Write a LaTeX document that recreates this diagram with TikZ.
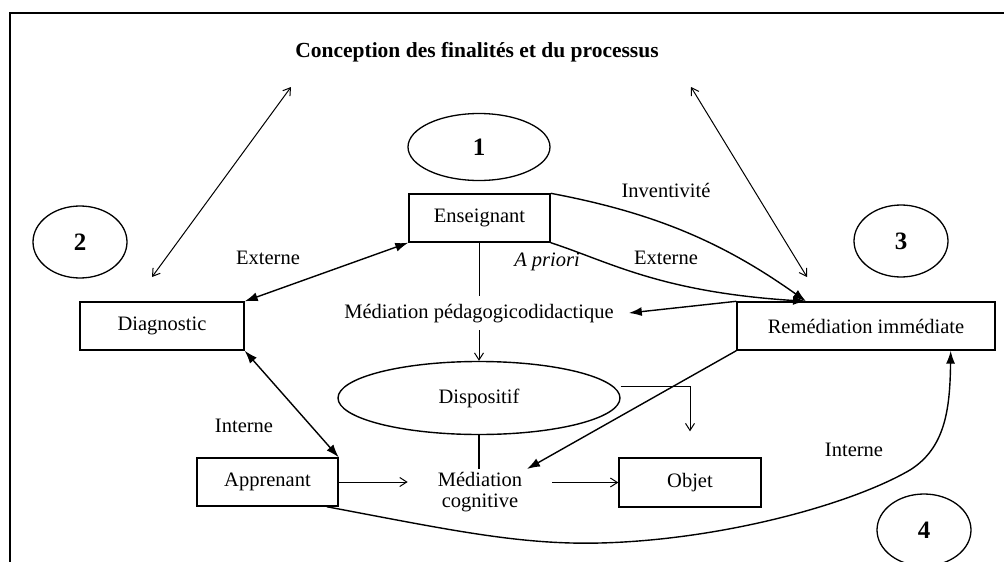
\documentclass[tikz,border=0pt]{standalone}
\usepackage{fontspec}
\setmainfont{Liberation Serif}
\usetikzlibrary{arrows.meta,shapes.geometric,calc}
\begin{document}
\begin{tikzpicture}[x=1pt,y=-1pt,
  every node/.style={font=\fontsize{20.5}{21}\selectfont},
  box/.style={draw,line width=1.4pt,inner sep=0pt},
  numell/.style={draw,ellipse,line width=1.3pt,minimum width=94pt,minimum height=72pt,inner sep=0pt,font=\fontsize{25}{25}\selectfont\bfseries},
  lbl/.style={inner sep=0pt},
  thinarr/.style={line width=1pt,-{Straight Barb[length=7pt,width=9pt,line width=1pt]}},
  thinboth/.style={line width=1pt,{Straight Barb[length=7pt,width=9pt,line width=1pt]}-{Straight Barb[length=7pt,width=9pt,line width=1pt]}},
  thickarr/.style={line width=1.4pt,-{Latex[length=13pt,width=9pt]}},
  thickboth/.style={line width=1.4pt,{Latex[length=13pt,width=9pt]}-{Latex[length=13pt,width=9pt]}},
  plain/.style={line width=1.4pt}]
\useasboundingbox (0,0) rectangle (1004,562);
% frame
\draw[line width=2pt] (10,562) -- (10,13) -- (1004,13);
% title
\node[lbl,font=\fontsize{21.5}{22}\selectfont\bfseries] (title) at (477,52) {Conception des finalités et du processus};
% numbered ellipses
\node[numell,minimum width=142pt,minimum height=67pt] (n1) at (479,147) {1};
\node[numell] (n2) at (80,242) {2};
\node[numell] (n3) at (901,241) {3};
\node[numell] (n4) at (924,530) {4};
% boxes
\node[box,minimum width=141pt,minimum height=48pt] (ens) at (479.5,218) {Enseignant};
\node[box,minimum width=164pt,minimum height=48pt] (diag) at (162,326) {Diagnostic};
\node[box,minimum width=258pt,minimum height=48pt] (rem) at (866,326) {Remédiation immédiate};
\node[box,minimum width=141pt,minimum height=48pt] (app) at (267.5,482) {Apprenant};
\node[box,minimum width=142pt,minimum height=49pt] (obj) at (690,482.5) {Objet};
\node[draw,ellipse,line width=1.4pt,minimum width=282pt,minimum height=73pt,inner sep=0pt] (disp) at (479,398) {Dispositif};
% mediation texts
\node[inner xsep=15pt,inner ysep=7pt,text height=15pt,text depth=5pt] (medped) at (479,313) {Médiation pédagogicodidactique};
\node[align=center,inner xsep=30pt,inner ysep=3pt] (medcog) at (480,492) {Médiation\\cognitive};
% labels
\node[lbl] (extL) at (268,258) {Externe};
\node[lbl] (extR) at (666,258) {Externe};
\node[lbl] (inv) at (666,190) {Inventivité};
\node[lbl] (apri) at (547,262) {\itshape A priori};
\node[lbl] (intL) at (244,426) {Interne};
\node[lbl] (intR) at (854,450) {Interne};
% coordinates
\coordinate (topL) at (291,87);
\coordinate (botL) at (152,277);
\coordinate (topR) at (691,87);
\coordinate (botR) at (807,277);
\coordinate (tipR) at ([xshift=-60pt]rem.north);
\coordinate (tipB) at ([xshift=-45pt]rem.south east);
\coordinate (startB) at ([xshift=-12pt]app.south east);
\coordinate (tipC) at ([xshift=47pt]medcog.north);
% connectors
\draw[thinboth] (topL) -- (botL);
\draw[thinboth] (topR) -- (botR);
\draw[thickboth] (ens.south west) -- (diag.north east);
\draw[thickboth] (diag.south east) -- (app.north east);
\draw[plain] (ens.south) -- (ens.south |- medped.north);
\draw[thinarr] (medped.south) -- (disp.north);
\draw[thickarr] (rem.north west) -- (medped.east);
\draw[plain] (disp.south) -- (disp.south |- medcog.north);
\draw[thinarr] ([yshift=12pt]disp.east) -| ([yshift=26pt]obj.north);
\draw[thickarr] (rem.south west) -- (tipC);
\draw[thinarr] (app.east) -- (app.east -| medcog.west);
\draw[thinarr] (medcog.east |- obj.west) -- (obj.west);
\draw[thickarr] (ens.north east) .. controls (650,212) and (720,240) .. (tipR);
\draw[thickarr] (ens.south east) .. controls (610,262) and (660,292) .. (tipR);
\draw[thickarr] (startB) .. controls (450,530) and (520,545) .. (600,543)
  .. controls (720,540) and (850,505) .. (910,470)
  .. controls (945,448) and (950,410) .. (tipB);
\end{tikzpicture}
\end{document}
